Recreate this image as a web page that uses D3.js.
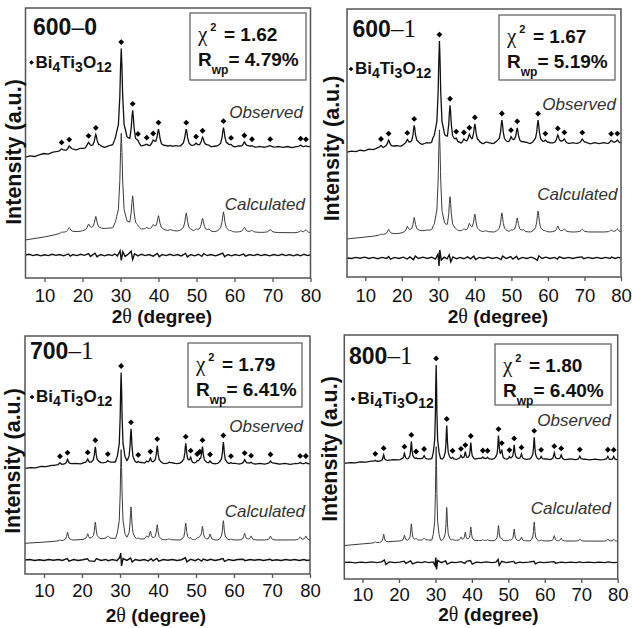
<!DOCTYPE html>
<html>
<head>
<meta charset="utf-8">
<style>
body { margin: 0; background: #fff; }
svg text { font-family: "Liberation Sans", Arial, sans-serif; }
</style>
</head>
<body>
<script src="https://d3js.org/d3.v7.min.js"></script>
<script>
// ---- data ----
var xTicks = [10, 20, 30, 40, 50, 60, 70, 80];
var sampleTemp = ["600", "600", "700", "800"];
var sampleTime = ["0", "1", "1", "1"];
var chi2 = ["1.62", "1.67", "1.79", "1.80"];
var rwp = ["4.79%", "5.19%", "6.41%", "6.40%"];
var diffBase = [85, 71, 59, 68];

// background lines [2theta, intensity]
var obsBg600_0 = [[5,448],[6.2,452],[7.4,450],[8.6,456],[9.8,461],[11,459],[12.2,466],[13.4,468],[14.6,471],[15.8,470],[17,476],[18.2,474],[19.4,480],[20.6,478],[21.2,484],[22.4,481],[24.6,486],[25.8,484],[27,490],[28.2,493],[29.2,496],[31.2,498],[32,492],[34,489],[35.6,487],[36.2,490],[37.6,486],[39.2,489],[41,485],[42,489],[43.6,486],[44.6,490],[45.8,486],[47,489],[48.6,485],[49.2,488],[50.6,486],[52.6,489],[53.8,485],[54.8,488],[56,485],[58.2,488],[60,485],[61,488],[62,485],[63.6,487],[65.6,484],[66.6,487],[67.8,484],[69,487],[70.4,484],[71.6,487],[72.8,484],[74,487],[75.2,483],[76.2,486],[78,484],[80,486]];
var calcBg600_0 = [[5,141],[10,152],[15,167],[20,174],[27,185],[35,181],[45,174],[60,170],[80,167]];
var obsBg600_1 = [[5,466],[6.2,470],[7.4,468],[8.6,473],[9.8,471],[11,477],[12.2,475],[13.4,481],[14.8,479],[15.6,484],[17.4,486],[18.6,490],[19.8,488],[20.8,494],[22.6,492],[24.4,497],[25.6,495],[26.8,501],[28,499],[29,504],[31.4,506],[32.2,500],[34,497],[35.8,500],[36.2,496],[37.6,500],[39.2,497],[41,501],[42.2,497],[43.6,501],[44.8,498],[46,502],[48.6,498],[50.8,501],[52.8,498],[54,502],[55.2,498],[56.4,501],[58.4,497],[60.2,501],[61.4,498],[63.8,501],[65.6,497],[66.8,501],[68,498],[70.4,501],[71.6,497],[72.8,501],[74,498],[75.2,501],[76.4,497],[78,500],[80,499]];
var calcBg600_1 = [[5,142],[10,149],[15,157],[20,164],[27,175],[35,172],[45,168],[80,168]];
var obsBg700_1 = [[5,444],[6.4,447],[7.8,446],[9.2,452],[10.6,451],[12,456],[13.4,458],[15,460],[16.8,462],[18.2,465],[19.6,463],[20.6,467],[22.4,466],[24.6,469],[25.6,467],[28,470],[29.2,472],[31.4,473],[32,468],[34,466],[35.8,468],[36.4,465],[40.8,467],[41.8,464],[43.6,467],[45,464],[46.2,467],[49.4,464],[52.6,466],[55,463],[56.2,466],[58.4,463],[60.4,465],[61.4,462],[63.8,465],[65.6,462],[66.8,465],[68,462],[70.8,465],[72,462],[73.4,465],[74.8,461],[76.2,464],[78.2,462],[80,463]];
var calcBg700_1 = [[5,129],[10,134],[15,140],[20,145],[27,150],[45,143],[80,143]];
var obsBg800_1 = [[5,474],[6.6,477],[8,476],[9.4,480],[11,479],[12.4,483],[14,482],[17,486],[18.4,489],[19.8,488],[20.8,491],[22.4,490],[25.8,493],[28.2,491],[29.2,494],[31.2,495],[32,491],[34,493],[35.8,490],[36.4,493],[40.8,491],[41.8,494],[45.4,491],[46.4,494],[49.4,491],[52.6,493],[55,490],[56.2,493],[58.2,490],[60.4,492],[61.4,489],[63.6,492],[65.6,489],[67,492],[68.4,489],[71,491],[72.4,488],[73.8,491],[75.2,488],[76.4,490],[78.2,488],[80,489]];
var calcBg800_1 = [[5,137],[10,144],[15,150],[20,156],[27,160],[45,157],[80,155]];

// peaks [2theta, observed height, calculated height, Bi4Ti3O12 mark]
var peaks600_0 = [
  [14.5,7,4,1],[16.5,15,18,1],[21.6,18,22,1],[23.5,48,48,1],[28.8,7,4,0],
  [30.2,352,352,1],[33.2,130,122,1],[34.6,11,4,1],[36.9,7,7,1],[38.6,18,15,1],
  [40.0,63,52,1],[43.2,4,4,0],[47.3,63,67,1],[49.9,11,7,1],[51.6,33,48,1],
  [53.3,4,7,0],[57.1,70,74,1],[59.1,7,4,1],[62.6,18,18,1],[64.6,4,7,1],
  [69.4,4,11,1],[77.4,7,7,1],[78.8,4,11,1]
];
var peaks600_1 = [
  [14.3,11,4,1],[16.4,26,19,1],[21.5,19,22,1],[23.4,71,52,1],[28.5,7,4,0],
  [30.3,375,375,1],[33.2,142,127,1],[34.9,15,4,1],[37.0,15,7,1],[38.5,30,26,1],
  [40.0,71,63,1],[43.0,4,4,0],[47.4,86,71,1],[49.9,22,7,1],[51.6,56,52,1],
  [53.3,4,7,0],[57.3,86,78,1],[59.3,11,4,1],[62.7,30,22,1],[64.5,15,11,1],
  [69.4,15,11,1],[77.3,11,7,1],[79.0,11,11,1]
];
var peaks700_1 = [
  [14.2,8,4,1],[16.2,21,34,1],[21.5,17,23,1],[23.5,67,70,1],[26.8,8,10,1],
  [30.3,374,374,1],[32.9,143,134,1],[34.8,6,4,1],[37.0,8,12,0],[38.0,21,34,1],
  [39.8,73,62,1],[43.0,4,4,0],[47.3,83,70,1],[48.6,24,8,1],[50.3,10,8,1],
  [51.0,10,8,1],[51.7,68,56,1],[53.7,10,25,1],[57.2,90,81,1],[59.2,4,4,1],
  [62.8,17,28,1],[64.5,6,17,1],[69.6,11,16,1],[77.4,6,13,1],[78.9,6,17,1]
];
var peaks800_1 = [
  [13.5,4,4,1],[15.8,25,33,1],[21.5,25,22,1],[23.4,73,68,1],[24.7,4,8,1],
  [26.9,14,8,1],[30.2,383,383,1],[33.1,137,134,1],[34.7,7,4,1],[37.0,14,14,1],
  [38.2,30,34,1],[39.7,68,55,1],[43.0,7,4,1],[44.3,7,4,1],[47.3,93,62,1],
  [48.2,34,8,1],[50.3,10,4,1],[51.6,57,48,1],[53.6,21,15,1],[57.1,89,77,1],
  [59.0,12,4,1],[62.6,27,22,1],[64.5,18,12,1],[69.6,14,9,1],[77.3,14,9,1],
  [78.9,14,9,1]
];

// difference curves [2theta, obs - calc]
var diff600_0 = [[5,0],[6,3],[7,-2],[8,2],[9,-3],[10,1],[11,-2],[12,3],[13,-1],[14,2],[15,-3],[16.3,4],[16.8,-4],[17.5,2],[18.5,-2],[19.5,3],[20.5,-1],[21.6,5],[22.1,-5],[23.3,7],[23.8,-6],[24.8,2],[25.8,-3],[26.8,2],[27.8,-2],[28.5,4],[29.2,-3],[29.9,16],[30.2,-20],[30.6,12],[31.2,-5],[32,3],[32.8,14],[33.2,-16],[33.7,5],[34.6,-3],[35.5,3],[36.5,-2],[37.5,2],[38.6,-4],[39.7,6],[40.2,-6],[41,2],[42,-2],[43,3],[44,-2],[45,2],[46,-3],[47.1,6],[47.6,-7],[48.5,2],[49.5,-3],[50.5,3],[51.4,-5],[51.9,5],[52.8,-2],[53.8,2],[55,-3],[56,2],[56.9,7],[57.4,-6],[58.3,2],[59.2,-3],[60.2,2],[61.2,-2],[62.4,4],[62.9,-4],[64,2],[65,-2],[66,3],[67,-2],[68,2],[69.3,-3],[70.3,2],[71.5,-2],[72.5,3],[73.5,-2],[74.5,2],[75.5,-3],[76.5,2],[77.4,-3],[78.3,3],[79.2,-2],[80,1]];
var diff600_1 = [[5,0],[6.2,-2],[7.4,2],[8.6,-1],[9.8,3],[11,-2],[12.2,2],[13.4,-3],[14.6,2],[15.8,-2],[16.4,5],[16.9,-4],[18,2],[19.2,-2],[20.4,3],[21.5,-4],[22.2,4],[23.2,-6],[23.7,7],[24.6,-2],[25.8,3],[27,-2],[28.2,3],[29.2,-4],[29.9,14],[30.2,-30],[30.4,30],[30.8,-8],[31.6,3],[32.4,-3],[33.0,12],[33.4,-14],[34,4],[35,-3],[36,2],[37,-3],[38,4],[38.8,-3],[39.7,7],[40.2,-6],[41.2,2],[42.4,-2],[43.6,3],[44.8,-2],[46,2],[47.2,-6],[47.6,7],[48.6,-2],[49.8,5],[50.4,-4],[51.4,6],[51.9,-5],[53,2],[54.2,-2],[55.4,3],[56.4,-2],[57.1,-9],[57.5,8],[58.4,-2],[59.4,3],[60.6,-2],[61.8,2],[62.6,-4],[63.1,4],[64.4,-2],[65.6,2],[66.8,-2],[68,2],[69.3,4],[69.8,-3],[71,2],[72.2,-2],[73.4,2],[74.6,-2],[75.8,2],[77,-2],[77.4,3],[78.4,-2],[79.2,2],[80,0]];
var diff700_1 = [[5,0],[6.3,2],[7.5,-2],[8.8,1],[10,-2],[11.2,2],[12.5,-1],[13.8,2],[14.8,-2],[16.1,6],[16.6,-5],[17.8,2],[19,-2],[20.2,1],[21.4,5],[21.9,-4],[23.3,-6],[23.8,6],[25,-2],[26.2,2],[26.9,-3],[28,2],[29.2,-3],[29.9,10],[30.2,29],[30.4,-25],[30.8,6],[31.8,-2],[32.8,8],[33.2,-9],[34,2],[35.2,-2],[36.4,2],[37.4,-4],[38.2,5],[38.7,-4],[39.7,6],[40.2,-5],[41.4,2],[42.6,-1],[43.8,2],[45,-2],[46.2,1],[47.2,9],[47.6,-8],[48.6,3],[49.8,-3],[50.6,4],[51.5,-5],[51.9,4],[53,-2],[53.8,3],[55,-2],[56.2,2],[57.1,6],[57.5,-6],[58.6,2],[59.8,-2],[61,2],[62.4,3],[62.9,-3],[64.2,2],[65.4,-1],[66.6,2],[67.8,-2],[69.5,3],[70,-2],[71.2,1],[72.4,-2],[73.6,2],[74.8,-1],[76,2],[77.2,-2],[78.4,2],[79.2,-2],[80,0]];
var diff800_1 = [[5,0],[6.5,1],[8,-2],[9.5,1],[11,-1],[12.5,2],[14,-1],[15.2,2],[16.0,10],[16.4,-8],[17.4,2],[18.8,-1],[20.2,1],[21.4,5],[21.9,-4],[23.2,6],[23.7,-6],[25,1],[26.4,-1],[27,3],[28.2,-1],[29.4,2],[29.9,-12],[30.1,20],[30.3,-29],[30.6,8],[31.6,-1],[32.8,6],[33.2,-7],[34.4,1],[35.6,-1],[37,3],[38.1,-4],[38.5,4],[39.6,8],[40.1,-7],[41.2,1],[42.6,-1],[44,2],[45.4,-1],[46.6,1],[47.2,12],[47.5,-12],[48.2,4],[49.4,-1],[50.6,2],[51.5,4],[51.9,-4],[53,1],[54.2,-1],[55.6,1],[57,5],[57.4,-6],[58.4,1],[59.8,-1],[61.2,1],[62.5,3],[63,-3],[64.4,1],[65.8,-1],[67.2,1],[68.6,-1],[69.6,2],[70.4,-1],[72,1],[73.5,-1],[75,1],[76.5,-1],[77.4,2],[78.6,-1],[80,0]];

// ---- layout ----
var layout = [
  {x0:25.5, y0:8, x1:310.5, y1:278, fwhm:0.75, tickPad:7,
   name:[33,35], leg:[31.5,62.5,35.5,68], box:[190,13,116,67],
   obs:[303,118], calc:[305,210], title:[162,322.5], ylab:[21,152]},
  {x0:347, y0:9, x1:621, y1:277, fwhm:0.7, tickPad:8,
   name:[352.5,36.5], leg:[351,69,355,74], box:[499,15,116,65],
   obs:[616,110], calc:[617.5,200], title:[498,322.5], ylab:[338.5,148.5]},
  {x0:25, y0:336, x1:310, y1:574, fwhm:0.5, tickPad:6,
   name:[30,359], leg:[32,397,36,402], box:[188,343,114,64],
   obs:[303,432], calc:[305,517], title:[156,622], ylab:[19.5,461]},
  {x0:344.3, y0:335, x1:617.7, y1:579, fwhm:0.4, tickPad:5,
   name:[349,364], leg:[353,399,357.5,404], box:[495,344,116,61],
   obs:[611,426], calc:[611,514], title:[488.5,621], ylab:[337,449]}
];

var panels = [
  {obsBg:obsBg600_0, calcBg:calcBg600_0, peaks:peaks600_0, diff:diff600_0},
  {obsBg:obsBg600_1, calcBg:calcBg600_1, peaks:peaks600_1, diff:diff600_1},
  {obsBg:obsBg700_1, calcBg:calcBg700_1, peaks:peaks700_1, diff:diff700_1},
  {obsBg:obsBg800_1, calcBg:calcBg800_1, peaks:peaks800_1, diff:diff800_1}
];

// peak outline in units of fwhm
var shape = [[-3,0],[-2,0.06],[-1,0.2],[-0.5,0.5],[-0.25,0.8],[0,1],[0.25,0.8],[0.5,0.5],[1,0.2],[2,0.06],[3,0]];
var shapeScale = d3.scaleLinear()
  .domain(shape.map(function(s){ return s[0]; }))
  .range(shape.map(function(s){ return s[1]; }))
  .clamp(true);

function valueAt(bg, peaks, col, fwhm, t){
  var bgScale = d3.scaleLinear().domain(bg.map(function(d){ return d[0]; })).range(bg.map(function(d){ return d[1]; }));
  return bgScale(t) + d3.sum(peaks, function(p){ return p[col] * shapeScale((t - p[0]) / fwhm); });
}

function pattern(bg, peaks, col, fwhm){
  var xs = bg.map(function(d){ return d[0]; });
  peaks.forEach(function(p){
    if (p[col] > 0) shape.forEach(function(s){ xs.push(p[0] + s[0] * fwhm); });
  });
  xs = xs.filter(function(t){ return t >= 5 && t <= 80; }).sort(d3.ascending);
  return xs.map(function(t){ return [t, valueAt(bg, peaks, col, fwhm, t)]; });
}

var svg = d3.select("body").append("svg")
  .attr("width", 632)
  .attr("height", 628);

panels.forEach(function(p, i){
  var L = layout[i];
  var x = d3.scaleLinear().domain([5, 80]).range([L.x0, L.x1]);
  var y = d3.scaleLinear().domain([0, 1000]).range([L.y1, L.y0]);
  var line = d3.line().x(function(d){ return x(d[0]); }).y(function(d){ return y(d[1]); });
  var g = svg.append("g");

  g.append("path")
    .datum(pattern(p.calcBg, p.peaks, 2, L.fwhm))
    .attr("d", line)
    .attr("fill", "none")
    .attr("stroke", "#3a3a3a")
    .attr("stroke-width", 1);

  g.append("path")
    .datum(pattern(p.obsBg, p.peaks, 1, L.fwhm))
    .attr("d", line)
    .attr("fill", "none")
    .attr("stroke", "#111")
    .attr("stroke-width", 1.3);

  g.append("path")
    .datum(p.diff.map(function(d){ return [d[0], diffBase[i] + d[1]]; }))
    .attr("d", line)
    .attr("fill", "none")
    .attr("stroke", "#111")
    .attr("stroke-width", 1.4);

  // Bi4Ti3O12 marks
  g.selectAll(".mk")
    .data(p.peaks.filter(function(d){ return d[3]; }))
    .enter().append("path")
      .attr("d", d3.symbol(d3.symbolSquare, 17))
      .attr("transform", function(d){
        return "translate(" + x(d[0]) + "," + (y(valueAt(p.obsBg, p.peaks, 1, L.fwhm, d[0])) - 6.5) + ") rotate(45)";
      })
      .attr("fill", "#000");

  // frame
  g.append("rect")
    .attr("x", L.x0).attr("y", L.y0)
    .attr("width", L.x1 - L.x0).attr("height", L.y1 - L.y0)
    .attr("fill", "none").attr("stroke", "#555").attr("stroke-width", 1.5);

  var ax = g.append("g")
    .attr("transform", "translate(0," + L.y1 + ")")
    .call(d3.axisBottom(x).tickValues(xTicks).tickSize(4).tickPadding(L.tickPad).tickSizeOuter(0));
  ax.select(".domain").remove();
  ax.selectAll("line").attr("stroke", "#555").attr("stroke-width", 1.3);
  ax.selectAll("text").attr("fill", "#111").style("font-size", "18.5px")
    .style("font-family", "'Liberation Sans', Arial, sans-serif");

  // axis titles
  var t = g.append("text")
    .attr("x", L.title[0]).attr("y", L.title[1])
    .attr("text-anchor", "middle")
    .style("font-size", "19px").style("font-weight", "bold").attr("fill", "#111");
  t.append("tspan").text("2");
  t.append("tspan").text("θ").style("font-family", "'Liberation Serif', serif").style("font-weight", "normal").style("font-size", "20px");
  t.append("tspan").text(" (degree)");

  g.append("text")
    .attr("transform", "translate(" + L.ylab[0] + "," + L.ylab[1] + ") rotate(-90)")
    .attr("text-anchor", "middle")
    .style("font-size", "21.5px").style("font-weight", "bold").attr("fill", "#111")
    .text("Intensity (a.u.)");

  // sample name
  var nm = g.append("text")
    .attr("x", L.name[0]).attr("y", L.name[1])
    .style("font-size", "23px").style("font-weight", "bold").attr("fill", "#111");
  nm.append("tspan").text(sampleTemp[i]);
  if (i === 0) {
    nm.append("tspan").text("–").style("font-weight", "normal");
    nm.append("tspan").text(sampleTime[i]);
  } else {
    nm.append("tspan").text("–" + sampleTime[i])
      .style("font-family", "'Liberation Serif', serif").style("font-weight", "normal").style("font-size", "25px");
  }

  // legend
  g.append("path")
    .attr("d", d3.symbol(d3.symbolSquare, 11))
    .attr("transform", "translate(" + L.leg[0] + "," + L.leg[1] + ") rotate(45)")
    .attr("fill", "#000");
  var lg = g.append("text")
    .attr("x", L.leg[2]).attr("y", L.leg[3])
    .style("font-size", "17px").style("font-weight", "bold").attr("fill", "#111");
  [["Bi",0],["4",1],["Ti",0],["3",1],["O",0],["12",1]].forEach(function(s){
    var ts = lg.append("tspan").text(s[0]);
    if (s[1]) ts.style("font-size", "14px").attr("dy", 4);
    else ts.attr("dy", lg.selectAll("tspan").size() > 1 ? -4 : 0);
  });

  // fit statistics box
  var b = L.box;
  g.append("rect")
    .attr("x", b[0]).attr("y", b[1]).attr("width", b[2]).attr("height", b[3])
    .attr("fill", "#fff").attr("stroke", "#666").attr("stroke-width", 1.3);
  var l1 = g.append("text").attr("x", b[0] + 8).attr("y", b[1] + 28).attr("fill", "#111")
    .style("font-size", "19px").style("font-weight", "bold");
  l1.append("tspan").text("χ").style("font-family", "'Liberation Serif', serif").style("font-weight", "normal").style("font-size", "21px");
  l1.append("tspan").text("2").style("font-size", "11px").attr("dx", 3).attr("dy", -10);
  l1.append("tspan").text("= " + chi2[i]).attr("x", b[0] + 34).attr("dy", 10);
  var l2 = g.append("text").attr("x", b[0] + 8).attr("y", b[1] + 53).attr("fill", "#111")
    .style("font-size", "19px").style("font-weight", "bold");
  l2.append("tspan").text("R");
  l2.append("tspan").text("wp").style("font-size", "12px").attr("dy", 8);
  l2.append("tspan").text("= " + rwp[i]).attr("dy", -8);

  // series labels
  g.append("text").attr("x", L.obs[0]).attr("y", L.obs[1]).attr("text-anchor", "end")
    .style("font-size", "17px").style("font-style", "italic").attr("fill", "#333").text("Observed");
  g.append("text").attr("x", L.calc[0]).attr("y", L.calc[1]).attr("text-anchor", "end")
    .style("font-size", "17px").style("font-style", "italic").attr("fill", "#333").text("Calculated");
});
</script>
</body>
</html>
